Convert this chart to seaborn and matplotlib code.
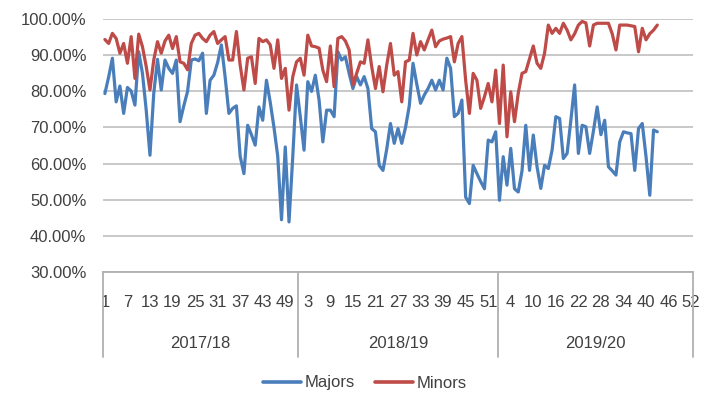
import numpy as np
import pandas as pd
import matplotlib
matplotlib.use("Agg")
import matplotlib.pyplot as plt
import matplotlib.transforms as mtransforms
import seaborn as sns

seasons = ["2017/18", "2018/19", "2019/20"]
weeks_per_season = [52, 53, 52]

majors = [
    79.4, 84.0, 89.2, 77.1, 81.5, 73.9, 81.1, 80.1, 76.2, 91.0,
    85.0, 74.8, 62.3, 79.4, 88.9, 80.4, 88.7, 86.4, 85.0, 88.7,
    71.6, 76.0, 80.0, 88.7, 89.0, 88.5, 90.6, 73.9, 83.1, 84.5,
    88.0, 92.9, 84.0, 73.9, 75.3, 76.0, 62.0, 57.2, 70.6, 68.0,
    65.1, 75.7, 72.0, 83.1, 77.0, 70.0, 62.0, 44.4, 64.6, 43.8,
    62.0, 81.8, 73.0, 63.7, 82.7, 80.0, 84.5, 77.6, 66.0, 74.8,
    74.8, 73.0, 91.0, 88.7, 89.6, 85.0, 80.8, 84.1, 81.8, 84.1,
    80.8, 69.7, 68.8, 59.5, 58.1, 64.0, 71.1, 65.6, 69.7, 65.6,
    70.0, 76.0, 87.8, 82.0, 76.7, 79.0, 80.8, 83.1, 80.4, 83.1,
    80.4, 89.2, 86.4, 73.0, 73.9, 77.6, 50.7, 48.9, 59.5, 57.2,
    55.0, 53.0, 66.5, 66.0, 68.8, 49.8, 61.9, 54.0, 64.2, 53.0,
    52.1, 58.0, 70.6, 58.1, 67.9, 59.1, 53.1, 59.5, 58.6, 63.7,
    73.0, 72.5, 61.4, 62.8, 72.0, 81.8, 62.8, 70.6, 70.2, 62.8,
    69.0, 75.7, 68.0, 72.0, 59.1, 58.0, 56.8, 66.0, 68.8, 68.5,
    68.3, 58.1, 69.7, 71.1, 61.9, 51.2, 69.3, 68.8,
]

minors = [
    94.4, 93.3, 96.1, 94.7, 90.6, 93.3, 87.8, 95.2, 83.6, 95.9,
    92.4, 86.9, 80.4, 88.7, 93.8, 90.6, 94.0, 95.6, 91.9, 95.2,
    88.2, 87.8, 86.0, 93.3, 95.6, 96.1, 94.7, 93.8, 95.6, 96.6,
    93.3, 94.3, 95.2, 88.7, 88.7, 96.6, 87.3, 80.4, 89.2, 89.6,
    82.2, 94.7, 93.8, 94.3, 92.9, 86.4, 94.3, 83.6, 86.4, 74.8,
    84.1, 88.2, 89.2, 84.5, 95.6, 92.6, 92.4, 92.0, 85.9, 82.7,
    92.6, 81.3, 94.7, 95.2, 94.0, 91.5, 81.8, 85.0, 88.2, 87.8,
    94.3, 86.9, 80.8, 86.9, 79.9, 87.3, 93.3, 84.5, 85.5, 77.1,
    88.2, 88.7, 96.1, 90.1, 93.8, 91.5, 94.3, 97.0, 92.4, 94.0,
    94.5, 94.8, 95.2, 88.2, 93.3, 95.2, 83.1, 73.9, 85.0, 83.1,
    75.3, 78.5, 82.2, 77.1, 85.9, 71.1, 87.3, 67.4, 79.9, 71.6,
    79.5, 85.0, 85.5, 89.0, 92.6, 87.8, 86.4, 90.6, 98.4, 96.1,
    97.5, 96.1, 98.9, 97.0, 94.3, 96.0, 98.4, 99.4, 99.0, 92.6,
    98.4, 98.9, 98.9, 98.9, 98.9, 96.0, 91.5, 98.4, 98.4, 98.4,
    98.2, 98.0, 91.0, 97.5, 94.3, 96.0, 97.0, 98.4,
]

series_names = ["Majors", "Minors"]
colors = ["#4a7ebb", "#be4b48"]

# category structure
week_nums = []
season_of = []
for s, n in zip(seasons, weeks_per_season):
    week_nums += list(range(1, n + 1))
    season_of += [s] * n
n_cat = len(week_nums)

df = pd.concat([
    pd.DataFrame({"idx": np.arange(len(majors)), "value": majors, "series": "Majors"}),
    pd.DataFrame({"idx": np.arange(len(minors)), "value": minors, "series": "Minors"}),
])

sns.set_theme(style="white")
plt.rcParams["font.family"] = ["Liberation Sans", "DejaVu Sans"]

fig = plt.figure(figsize=(7.21, 4.04), dpi=100)
ax = fig.add_axes([103 / 721, 1 - 271.7 / 404, 590 / 721, (271.7 - 19.3) / 404])

sns.lineplot(data=df, x="idx", y="value", hue="series", hue_order=series_names,
             palette=colors, linewidth=2.3, ax=ax, legend=False)

ax.set_xlim(-0.5, n_cat - 0.5)
ax.set_ylim(30, 100)
yt = np.arange(30, 101, 10)
ax.set_yticks(yt)
ax.set_yticklabels([f"{v:.2f}%" for v in yt], fontsize=12, color="#404040")
ax.yaxis.grid(True, color="#c4c4c4", linewidth=1.3)
ax.set_axisbelow(True)
ax.tick_params(axis="y", length=0, pad=12)

xt = np.arange(0, n_cat, 6)
ax.set_xticks(xt)
ax.set_xticklabels([str(week_nums[i]) for i in xt], fontsize=12, color="#404040")
ax.tick_params(axis="x", length=0, pad=17)
ax.set_xlabel("")
ax.set_ylabel("")

for side in ["top", "right", "left"]:
    ax.spines[side].set_visible(False)
ax.spines["bottom"].set_color("#b0b0b0")
ax.spines["bottom"].set_linewidth(1.3)

trans = mtransforms.blended_transform_factory(ax.transData, ax.transAxes)
bounds = np.concatenate([[0], np.cumsum(weeks_per_season)]) - 0.5
for b in bounds:
    ax.plot([b, b], [0, -0.336], transform=trans, color="#b0b0b0",
            linewidth=1.3, clip_on=False)
for s, lo, hi in zip(seasons, bounds[:-1], bounds[1:]):
    ax.text((lo + hi) / 2, -0.2825, s, transform=trans, ha="center", va="center",
            fontsize=12, color="#404040")

handles = [plt.Line2D([], [], color=c, linewidth=2.6) for c in colors]
fig.legend(handles, series_names, loc="center", bbox_to_anchor=(365 / 721, 1 - 383 / 404),
           ncol=2, frameon=False, fontsize=12, handlelength=2.3, handletextpad=0.2,
           columnspacing=1.2, labelcolor="#404040")

fig.savefig("out.png", dpi=100)
